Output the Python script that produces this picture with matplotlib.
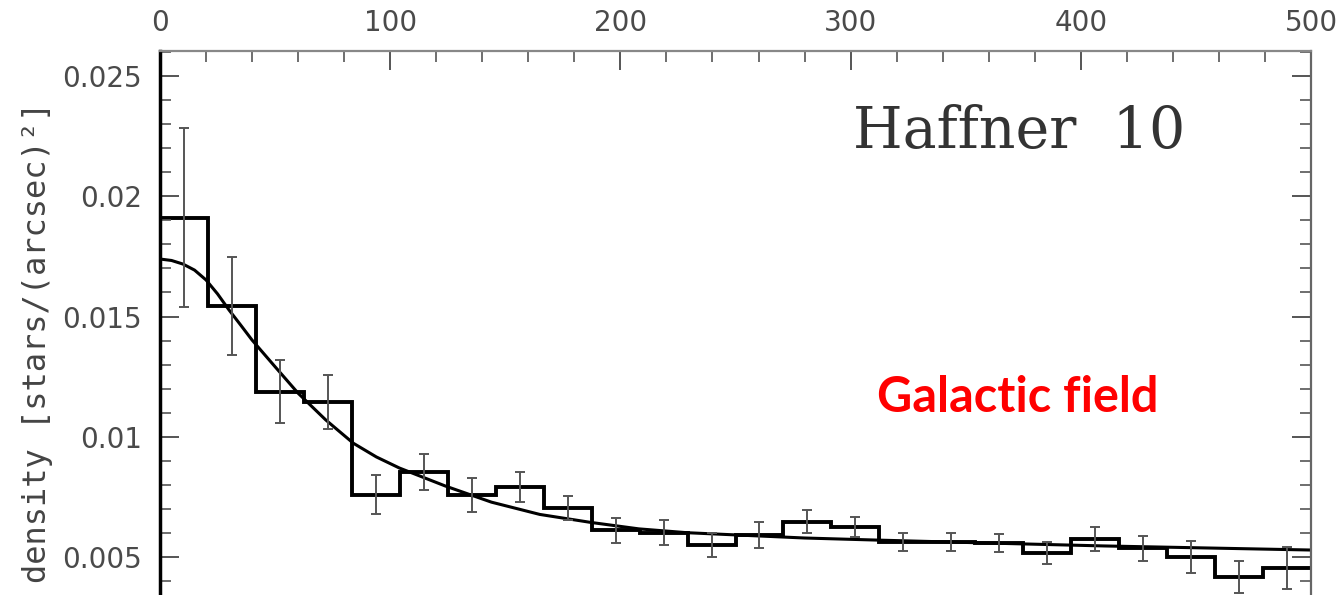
import numpy as np
import matplotlib
matplotlib.use("Agg")
import matplotlib.pyplot as plt
from matplotlib.ticker import MultipleLocator

# radial density profile, 24 bins from 0 to 500 arcsec
bin_edges = np.linspace(0, 500, 25)
density = [0.01910, 0.01544, 0.01187, 0.01143, 0.00758, 0.00852, 0.00758, 0.00791,
           0.00704, 0.00611, 0.00600, 0.00550, 0.00591, 0.00646, 0.00625, 0.00562,
           0.00562, 0.00558, 0.00517, 0.00575, 0.00537, 0.00500, 0.00417, 0.00454]
density_err = [0.00372, 0.00202, 0.00131, 0.00112, 0.00081, 0.00075, 0.00069, 0.00062,
               0.00050, 0.00052, 0.00052, 0.00048, 0.00054, 0.00048, 0.00040, 0.00037,
               0.00037, 0.00037, 0.00046, 0.00050, 0.00052, 0.00067, 0.00067, 0.00087]

# fitted profile
fit_r = [0, 5, 10, 15, 20, 25, 30, 35, 40, 50, 60, 72, 84, 94, 104, 124, 144, 165,
         187, 208, 229, 252, 280, 309, 360, 410, 500]
fit_density = [0.01739, 0.01733, 0.01718, 0.01693, 0.01652, 0.01594, 0.01527, 0.01465,
               0.01402, 0.01291, 0.01181, 0.01070, 0.00973, 0.00916, 0.00870, 0.00795,
               0.00728, 0.00677, 0.00644, 0.00617, 0.00601, 0.00591, 0.00579, 0.00571,
               0.00558, 0.00546, 0.00529]

bin_centers = 0.5 * (bin_edges[:-1] + bin_edges[1:])

fig = plt.figure(figsize=(13.41, 5.95), dpi=100)
ax = fig.add_axes([160 / 1341, 0.0, 1151 / 1341, 544 / 595])

ax.stairs(density, bin_edges, baseline=None, color="black", lw=2.8)
ax.plot(fit_r, fit_density, color="black", lw=2.2)
ax.errorbar(bin_centers, density, yerr=density_err, fmt="none", ecolor="#555555",
            elinewidth=1.4, capsize=3.5, capthick=1.4)

ax.set_xlim(0, 500)
ax.set_ylim(0.00342, 0.02604)

ax.xaxis.set_major_locator(MultipleLocator(100))
ax.xaxis.set_minor_locator(MultipleLocator(20))
ax.yaxis.set_major_locator(MultipleLocator(0.005))
ax.yaxis.set_minor_locator(MultipleLocator(0.001))
ax.yaxis.set_major_formatter(plt.FuncFormatter(lambda v, p: ("%.3f" % v).rstrip("0")))

ax.tick_params(axis="both", which="both", direction="in", top=True, bottom=False,
               labeltop=True, labelbottom=False, left=True, right=True,
               color="#555555", labelcolor="#4a4a4a", labelsize=20)
ax.tick_params(axis="x", which="major", length=14, width=1.4, pad=10)
ax.tick_params(axis="x", which="minor", length=8, width=1.2)
ax.tick_params(axis="y", which="major", length=14, width=1.4, pad=13)
ax.tick_params(axis="y", which="minor", length=8, width=1.2)

ax.spines["bottom"].set_visible(False)
ax.spines["left"].set_linewidth(2.5)
ax.spines["left"].set_color("black")
ax.spines["top"].set_linewidth(1.6)
ax.spines["top"].set_color("#888888")
ax.spines["right"].set_linewidth(1.6)
ax.spines["right"].set_color("#666666")

fig.text(38 / 1341, 1 - 342 / 595, "density [stars/(arcsec)²]", rotation=90,
         ha="center", va="center", family="DejaVu Sans Mono", fontsize=23,
         color="#444444")

fig.text(853 / 1341, 1 - 148 / 595, "Haffner  10", family="DejaVu Serif",
         fontsize=41, color="#333333", ha="left", va="baseline")

fig.text(877 / 1341, 1 - 412 / 595, "Galactic field", family="Lato",
         fontweight="bold", fontsize=35, color="#ff0000", ha="left", va="baseline")

fig.savefig("out.png", dpi=100)
